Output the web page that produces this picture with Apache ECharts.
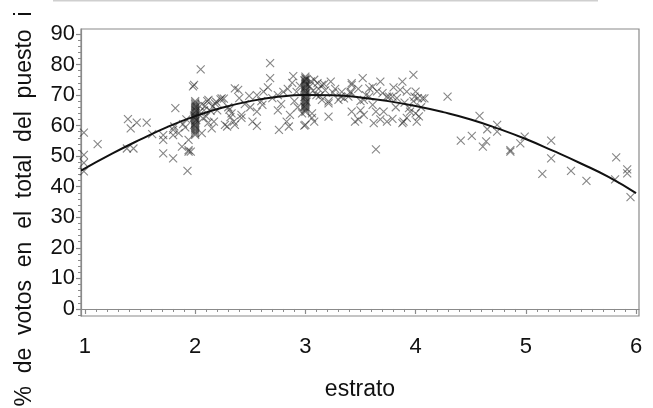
<!DOCTYPE html>
<html>
<head>
<meta charset="utf-8">
<script src="https://cdn.jsdelivr.net/npm/echarts@6/dist/echarts.min.js"></script>
<style>
html,body{margin:0;padding:0;background:#fff;}
#chart{width:653px;height:408px;}
</style>
</head>
<body>
<div id="chart"></div>
<script>
// ---- data ----
var estrato = [
  0.99,0.99,0.99,0.99,1.115,1.39,1.415,1.47,1.56,1.38,1.44,1.61,1.71,1.71,1.71,1.80,1.82,1.80,1.80,1.88,1.91,1.94,1.96,1.93,1.89,1.85,1.92,1.81,1.94,1.94,1.98,
  2,2,2,2,2,2,2,2,2,2,2,2,2,2,2,2,2,2,2,2,2,2,2,1.99,2.01,1.99,2.01,2.01,1.99,
  2.05,1.99,2.06,2.15,2.16,2.23,2.10,2.12,2.29,2.32,2.36,2.39,2.35,2.42,2.52,2.56,2.49,2.56,2.68,2.68,2.66,2.76,2.83,2.85,2.86,2.89,2.88,2.24,2.06,2.12,2.18,2.33,2.42,2.17,2.27,2.36,2.56,2.61,2.62,2.80,2.84,2.70,2.75,2.60,2.45,2.50,2.40,2.30,2.20,2.08,2.75,2.78,2.90,2.92,2.95,2.93,2.97,2.04,2.09,2.14,2.07,2.11,2.19,2.26,2.31,
  3,3,3,3,3,3,3,3,3,3,3,3,3,3,3,3,3,3,3,3,3,3,3,3,2.99,3.01,2.99,3.01,2.99,3.01,3.01,2.99,3,2.99,
  3.06,3.06,3.08,3.21,3.11,3.15,3.23,3.21,3.15,3.42,3.52,3.58,3.61,3.68,3.41,3.35,3.30,3.42,3.53,3.45,3.64,3.71,3.62,3.74,3.64,3.61,3.70,3.76,3.88,3.98,3.86,3.92,4.00,3.83,3.98,3.94,3.95,3.89,3.88,4.01,4.03,4.05,4.02,3.10,3.12,3.18,3.25,3.05,3.08,3.27,3.33,3.48,3.55,3.50,3.58,3.65,3.80,3.82,3.90,3.92,3.48,3.68,3.79,3.42,3.41,3.39,3.32,3.53,3.50,3.21,4.06,3.99,3.79,3.74,4.00,4.08,3.04,3.07,3.13,3.17,
  4.29,4.58,4.41,4.51,4.61,4.64,4.65,4.74,4.74,4.86,4.86,4.95,4.99,5.23,5.23,5.15,5.41,5.55,5.82,5.81,5.92,5.92,5.95
];
var votos = [
  57.7,50.4,47.8,45.0,53.9,62.1,59.1,61.0,61.0,52.5,52.5,57.2,56.9,55.3,50.9,49.3,65.7,58.6,56.9,53.1,59.4,51.5,51.5,45.2,60.5,57.5,62.0,59.7,55.3,52.0,72.8,
  57,57.5,58,58.5,59,59.5,60,60.5,61,61.5,62,62.5,63,63.5,64,64.5,65,65.5,66,66.5,67,67.5,68,60.2,61.8,63.3,64.8,66.2,62.7,
  78.4,73.3,57.5,59.1,66.2,68.6,63.0,61.0,59.7,62.8,72.2,71.7,61.3,62.5,61.3,59.9,69.7,70.0,80.4,75.5,72.5,58.6,61.3,59.7,63.5,76.2,74.0,68.9,67.0,68.4,67.3,64.0,63.5,61.3,60.2,60.2,64.6,66.8,71.1,71.0,72.0,69.0,70.0,68.0,67.0,66.0,69.0,66.0,65.0,65.0,65.0,67.0,68.0,71.0,73.0,66.0,64.0,64.5,66.4,64.8,62.4,68.0,67.8,68.8,65.2,
  64.5,65,65.5,66,66.5,67,67.5,68,68.5,69,69.5,70,70.5,71,71.5,72,72.5,73,73.5,74,74.5,75,75.5,76,66.2,67.8,69.3,70.7,72.2,73.6,75.2,74.8,60.2,60.0,
  62.5,64.0,61.3,62.9,73.9,73.3,74.4,67.3,68.4,73.9,75.5,72.2,72.7,74.4,70.6,68.9,68.4,64.6,63.5,61.3,64.6,64.6,60.8,61.3,52.2,66.8,70.6,69.5,74.4,76.6,71.7,71.1,71.1,69.0,68.0,65.7,64.6,61.3,60.8,61.3,63.0,66.0,69.0,70.0,72.0,71.5,70.8,74.5,75.0,72.0,71.0,72.0,70.0,68.0,69.5,71.2,72.5,66.0,67.5,62.5,62.0,62.0,62.2,73.3,71.1,69.5,69.5,68.4,65.0,67.9,68.9,69.5,69.5,69.5,64.0,68.9,72.8,71.4,69.8,73.6,
  69.5,63.2,55.1,56.6,53.1,54.8,58.8,60.2,58.0,51.5,52.0,54.2,56.4,55.1,49.3,44.2,45.2,41.9,49.6,42.4,45.7,44.4,36.6
];
var curveX = [0.964,1.25,1.5,1.75,2.0,2.25,2.5,2.75,3.0,3.25,3.5,3.75,4.0,4.25,4.5,4.75,5.0,5.25,5.5,5.75,6.0];
var curveY = [45.3,50.9,55.4,59.6,63.1,65.9,68.0,69.4,70.0,69.9,69.2,68.0,66.4,64.4,62.0,59.0,55.6,51.7,47.6,43.2,37.9];
var xTicks = [1,2,3,4,5,6];
var yTicks = [0,10,20,30,40,50,60,70,80,90];
var xTitle = 'estrato';
var yTitle = '%  de  votos  en  el  total  del  puesto  i';

// ---- build ----
var xMinor = [], yMinor = [];
for (var i = 10; i <= 60; i++) { if (i % 10 !== 0) xMinor.push(i / 10); }
for (var j = -2; j <= 90; j += 2) { if (j % 10 !== 0) yMinor.push(j); }

var scatterData = estrato.map(function (x, k) { return [x, votos[k]]; });
var curveData = curveX.map(function (x, k) { return [x, curveY[k]]; });

var axisGray = '#8a8a8a';
var font = 'Liberation Sans, Arial, Helvetica, sans-serif';
var XMIN = 0.964, XMAX = 6.027, YMIN = -2.3, YMAX = 91.6;

var chart = echarts.init(document.getElementById('chart'), null, {renderer: 'canvas'});
chart.setOption({
  animation: false,
  backgroundColor: '#fff',
  grid: {left: 81, right: 14, top: 29, bottom: 92, show: true, borderColor: axisGray, borderWidth: 1.2, backgroundColor: 'transparent'},
  xAxis: [{
    type: 'value', min: XMIN, max: XMAX, position: 'bottom',
    axisLine: {show: true, lineStyle: {color: axisGray, width: 1.2}},
    axisTick: {show: true, length: 5, customValues: xTicks, lineStyle: {color: axisGray, width: 1.2}},
    axisLabel: {customValues: xTicks, margin: 20, color: '#111', fontSize: 22, fontFamily: font},
    splitLine: {show: false},
    name: xTitle, nameLocation: 'middle', nameGap: 62,
    nameTextStyle: {color: '#111', fontSize: 23, fontFamily: font}
  }, {
    type: 'value', min: XMIN, max: XMAX, position: 'bottom',
    axisLine: {show: false},
    axisTick: {show: true, length: 3, customValues: xMinor, lineStyle: {color: axisGray, width: 1}},
    axisLabel: {show: false},
    splitLine: {show: false}
  }],
  yAxis: [{
    type: 'value', min: YMIN, max: YMAX, position: 'left',
    axisLine: {show: true, lineStyle: {color: axisGray, width: 1.2}},
    axisTick: {show: true, length: 5, customValues: yTicks, lineStyle: {color: axisGray, width: 1.2}},
    axisLabel: {customValues: yTicks, margin: 6, color: '#111', fontSize: 22, fontFamily: font},
    splitLine: {show: false}
  }, {
    type: 'value', min: YMIN, max: YMAX, position: 'left',
    axisLine: {show: false},
    axisTick: {show: true, length: 3, customValues: yMinor, lineStyle: {color: axisGray, width: 1}},
    axisLabel: {show: false},
    splitLine: {show: false}
  }],
  graphic: [
    {type: 'line', shape: {x1: 53, y1: 0.5, x2: 598, y2: 0.5}, style: {stroke: '#cfcfcf', lineWidth: 2}},
    {type: 'text', x: 25, y: 209, rotation: Math.PI / 2,
     style: {text: yTitle, fill: '#111', fontSize: 23, fontFamily: font, align: 'center', verticalAlign: 'middle'}}
  ],
  series: [{
    type: 'scatter', xAxisIndex: 0, yAxisIndex: 0,
    data: scatterData,
    symbol: 'path://M0,0L10,10M10,0L0,10',
    symbolSize: 8,
    itemStyle: {color: 'transparent', borderColor: 'rgba(30,30,30,0.68)', borderWidth: 1.1},
    silent: true
  }, {
    type: 'line', xAxisIndex: 0, yAxisIndex: 0,
    data: curveData, smooth: true, symbol: 'none',
    lineStyle: {color: '#111', width: 2},
    silent: true, z: 3
  }]
});
</script>
</body>
</html>
